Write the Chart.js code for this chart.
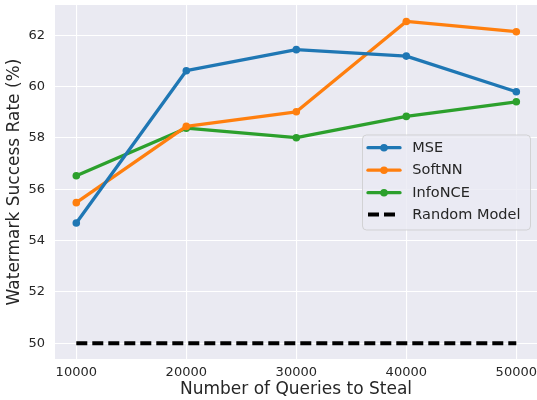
<!DOCTYPE html>
<html>
<head>
<meta charset="utf-8">
<script src="https://cdn.jsdelivr.net/npm/chart.js@4/dist/chart.umd.min.js"></script>
<style>
html,body{margin:0;padding:0;background:#fff;}
#wrap{width:537px;height:400px;position:relative;}
</style>
</head>
<body>
<div id="wrap"><canvas id="c" width="537" height="400"></canvas></div>
<script>
const queries = [10000, 20000, 30000, 40000, 50000];
const mse = [54.69, 60.62, 61.44, 61.19, 59.80];
const softnn = [55.48, 58.45, 59.02, 62.54, 62.14];
const infonce = [56.53, 58.38, 58.01, 58.84, 59.41];
const randomModel = [50, 50, 50, 50, 50];
const xTicks = [10000, 20000, 30000, 40000, 50000];
const yTicks = [50, 52, 54, 56, 58, 60, 62];
const seriesNames = ['MSE', 'SoftNN', 'InfoNCE', 'Random Model'];

const TXT = '#262626';
const FONT = 'DejaVu Sans';

function pts(vals){ return queries.map((q,i)=>({x:q, y:vals[i]})); }

function lineDs(label, vals, color){
  return {
    label, data: pts(vals), borderColor: color, backgroundColor: color,
    borderWidth: 3.3, pointRadius: 3.8, pointHoverRadius: 3.8,
    pointBackgroundColor: color, pointBorderColor: color, pointBorderWidth: 0,
    tension: 0, fill: false, borderCapStyle: 'round', borderJoinStyle: 'round'
  };
}

function zeroPad(s){ s.paddingTop = 0; s.paddingBottom = 0; s.paddingLeft = 0; s.paddingRight = 0; }

const bgPlugin = {
  id: 'bg',
  beforeDraw(chart){
    const {ctx, chartArea:a} = chart;
    ctx.save();
    ctx.fillStyle = '#ffffff';
    ctx.fillRect(0,0,chart.width,chart.height);
    ctx.fillStyle = '#EAEAF2';
    ctx.fillRect(a.left, a.top, a.right-a.left, a.bottom-a.top);
    ctx.restore();
  }
};

const legendPlugin = {
  id: 'innerLegend',
  afterDraw(chart){
    const ctx = chart.ctx;
    const x = 362.5, y = 135, w = 168, h = 95, r = 4;
    ctx.save();
    ctx.beginPath();
    ctx.moveTo(x+r, y);
    ctx.arcTo(x+w, y, x+w, y+h, r);
    ctx.arcTo(x+w, y+h, x, y+h, r);
    ctx.arcTo(x, y+h, x, y, r);
    ctx.arcTo(x, y, x+w, y, r);
    ctx.closePath();
    ctx.fillStyle = 'rgba(234,234,242,0.8)';
    ctx.fill();
    ctx.strokeStyle = 'rgba(204,204,204,0.8)';
    ctx.lineWidth = 1;
    ctx.stroke();
    const rows = [147.7, 170.2, 192.7, 214.5];
    chart.data.datasets.forEach((ds, i) => {
      const yy = rows[i];
      ctx.beginPath();
      ctx.strokeStyle = ds.borderColor;
      ctx.lineWidth = ds.borderWidth;
      ctx.setLineDash(ds.borderDash || []);
      ctx.lineCap = ds.borderDash ? 'butt' : 'round';
      ctx.moveTo(368, yy);
      ctx.lineTo(400, yy);
      ctx.stroke();
      ctx.setLineDash([]);
      if (ds.pointRadius > 0) {
        ctx.beginPath();
        ctx.fillStyle = ds.borderColor;
        ctx.arc(384, yy, ds.pointRadius, 0, Math.PI*2);
        ctx.fill();
      }
      ctx.fillStyle = TXT;
      ctx.font = '14.5px "' + FONT + '"';
      ctx.textBaseline = 'middle';
      ctx.textAlign = 'left';
      ctx.fillText(seriesNames[i], 412.3, yy + 0.5);
    });
    ctx.restore();
  }
};

new Chart(document.getElementById('c'), {
  type: 'line',
  data: {
    datasets: [
      lineDs(seriesNames[0], mse, '#1f77b4'),
      lineDs(seriesNames[1], softnn, '#ff7f0e'),
      lineDs(seriesNames[2], infonce, '#2ca02c'),
      {
        label: seriesNames[3], data: pts(randomModel), borderColor: '#000000', backgroundColor: '#000000',
        borderWidth: 4, borderDash: [11, 5], pointRadius: 0, pointHoverRadius: 0,
        tension: 0, fill: false, borderCapStyle: 'butt'
      }
    ]
  },
  options: {
    responsive: false,
    animation: false,
    devicePixelRatio: 1,
    layout: { autoPadding: false, padding: { left: 0, right: 0, top: 5, bottom: 0 } },
    plugins: { legend: { display: false }, tooltip: { enabled: false } },
    scales: {
      x: {
        type: 'linear',
        min: 8064, max: 51882,
        afterBuildTicks(s){ s.ticks = xTicks.map(v => ({value: v})); },
        afterFit(s){ s.height = 41; zeroPad(s); },
        grid: { color: '#ffffff', lineWidth: 1.1, drawTicks: false },
        border: { display: false },
        ticks: { color: TXT, font: { family: FONT, size: 13 }, padding: 6, maxRotation: 0, autoSkip: false,
                  callback: v => String(v) },
        title: { display: true, text: 'Number of Queries to Steal', color: TXT,
                 font: { family: FONT, size: 17 }, padding: { top: 0, bottom: 0 } }
      },
      y: {
        type: 'linear',
        min: 49.39, max: 63.18,
        afterBuildTicks(s){ s.ticks = yTicks.map(v => ({value: v})); },
        afterFit(s){ s.width = 55; zeroPad(s); },
        grid: { color: '#ffffff', lineWidth: 1.1, drawTicks: false },
        border: { display: false },
        ticks: { color: TXT, font: { family: FONT, size: 13 }, padding: 10, autoSkip: false,
                 callback: v => String(v) },
        title: { display: true, text: 'Watermark Success Rate (%)', color: TXT,
                 font: { family: FONT, size: 17 }, padding: { top: 4, bottom: 0 } }
      }
    }
  },
  plugins: [bgPlugin, legendPlugin]
});
</script>
</body>
</html>
